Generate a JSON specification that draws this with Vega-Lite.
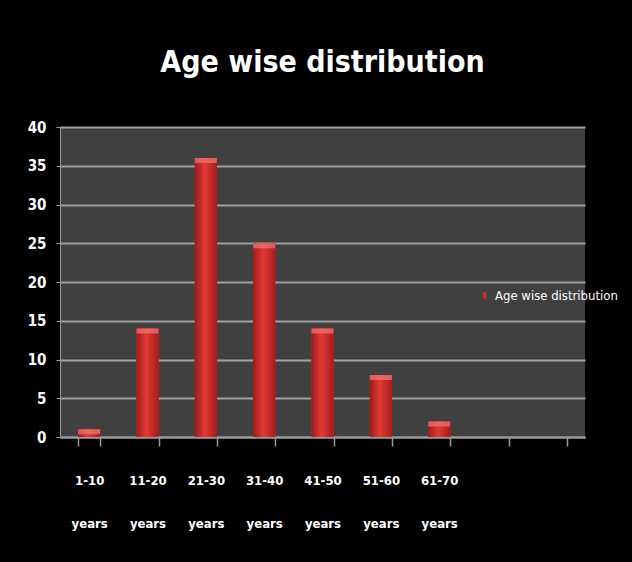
{
  "$schema": "https://vega.github.io/schema/vega-lite/v6.json",
  "width": 525,
  "height": 310,
  "autosize": {"type": "none"},
  "padding": {"left": 60, "top": 127, "right": 47, "bottom": 125},
  "background": "#000000",
  "title": {
    "text": "Age wise distribution",
    "font": "DejaVu Sans Condensed, Liberation Sans Narrow, Roboto Condensed, Roboto",
    "fontSize": 30,
    "fontWeight": "bold",
    "color": "#ffffff",
    "anchor": "middle",
    "offset": 42
  },
  "data": {
    "values": [
      {"age": "1-10 years", "count": 1, "series": "Age wise distribution"},
      {"age": "11-20 years", "count": 14, "series": "Age wise distribution"},
      {"age": "21-30 years", "count": 36, "series": "Age wise distribution"},
      {"age": "31-40 years", "count": 25, "series": "Age wise distribution"},
      {"age": "41-50 years", "count": 14, "series": "Age wise distribution"},
      {"age": "51-60 years", "count": 8, "series": "Age wise distribution"},
      {"age": "61-70 years", "count": 2, "series": "Age wise distribution"}
    ]
  },
  "encoding": {
    "x": {
      "field": "age",
      "type": "nominal",
      "sort": null,
      "scale": {
        "domain": ["1-10 years", "11-20 years", "21-30 years", "31-40 years", "41-50 years", "51-60 years", "61-70 years", " ", "  "],
        "paddingInner": 0.62,
        "paddingOuter": 0.31
      },
      "axis": {
        "title": null,
        "labelAngle": 0,
        "labelExpr": "split(datum.label, ' ')",
        "labelColor": "#ffffff",
        "labelFont": "DejaVu Sans Condensed, Liberation Sans Narrow, Roboto Condensed, Roboto",
        "labelFontWeight": "bold",
        "labelFontSize": 13,
        "labelLineHeight": 43,
        "labelPadding": 28,
        "domainColor": "#9a9a9a",
        "domainWidth": 2,
        "tickBand": "extent",
        "tickColor": "#9a9a9a",
        "tickWidth": 1.5,
        "tickSize": 9
      }
    },
    "y": {
      "field": "count",
      "type": "quantitative",
      "scale": {"domain": [0, 40], "nice": false},
      "axis": {
        "title": null,
        "values": [0, 5, 10, 15, 20, 25, 30, 35, 40],
        "labelColor": "#ffffff",
        "labelFont": "DejaVu Sans Condensed, Liberation Sans Narrow, Roboto Condensed, Roboto",
        "labelFontWeight": "bold",
        "labelFontSize": 15,
        "labelPadding": 10,
        "gridColor": "#a0a0a0",
        "gridWidth": 2,
        "domainColor": "#9a9a9a",
        "domainWidth": 1,
        "tickColor": "#9a9a9a",
        "tickSize": 4
      }
    }
  },
  "layer": [
    {
      "mark": {"type": "bar"},
      "encoding": {
        "color": {
          "field": "series",
          "type": "nominal",
          "scale": {"range": ["#d42a2a"]},
          "legend": {
            "title": null,
            "orient": "none",
            "legendX": 418,
            "legendY": 162,
            "symbolType": "M-0.5,-1H0.5V1H-0.5Z",
            "symbolSize": 40,
            "symbolStrokeWidth": 0,
            "labelColor": "#ffffff",
            "labelFont": "DejaVu Sans Condensed, Liberation Sans Narrow, Roboto Condensed, Roboto",
            "labelFontSize": 13,
            "labelOffset": 4
          }
        }
      }
    },
    {
      "mark": {
        "type": "bar",
        "color": {
          "gradient": "linear",
          "x1": 0, "y1": 0, "x2": 1, "y2": 0,
          "stops": [
            {"offset": 0, "color": "#9e1a1a"},
            {"offset": 0.45, "color": "#e23a36"},
            {"offset": 1, "color": "#a41c1c"}
          ]
        }
      }
    },
    {
      "mark": {"type": "tick", "color": "#f07a78", "thickness": 5, "size": 22, "yOffset": 2.5}
    }
  ],
  "config": {
    "view": {"fill": "#404040", "stroke": null}
  }
}
